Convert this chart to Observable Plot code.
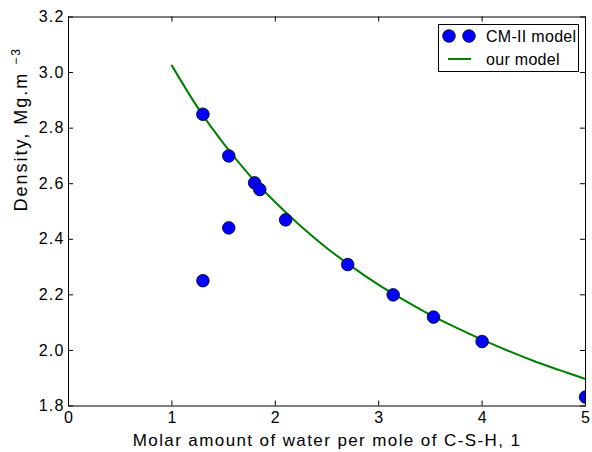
<!DOCTYPE html>
<html><head><meta charset="utf-8">
<script src="https://cdn.jsdelivr.net/npm/d3@7"></script>
<script src="https://cdn.jsdelivr.net/npm/@observablehq/plot@0.6"></script>
<style>body{margin:0;background:#fff}</style>
</head><body><div id="chart"></div>
<script>
// CM-II model points
const cmX = [1.3, 1.55, 1.8, 1.85, 2.1, 1.55, 1.3, 2.7, 3.14, 3.53, 4.0, 5.0];
const cmY = [2.85, 2.70, 2.603, 2.579, 2.47, 2.441, 2.251, 2.309, 2.20, 2.12, 2.032, 1.832];
// our model curve
const modelX = [1.0, 1.25, 1.5, 1.75, 2.0, 2.25, 2.5, 2.75, 3.0, 3.25, 3.5, 3.75, 4.0, 4.25, 4.5, 4.75, 5.0];
const modelY = [3.025, 2.874, 2.744, 2.631, 2.533, 2.446, 2.368, 2.299, 2.236, 2.180, 2.128, 2.082, 2.039, 1.999, 1.962, 1.929, 1.897];
const xTicks = [0, 1, 2, 3, 4, 5];
const yTicks = [1.8, 2.0, 2.2, 2.4, 2.6, 2.8, 3.0, 3.2];
const seriesNames = ["CM-II model", "our model"];
const xLabel = "Molar amount of water per mole of C-S-H, 1";

const W = 592, H = 452, mL = 68, mR = 7, mT = 16.5, mB = 46.5;
const pw = W - mL - mR, ph = H - mT - mB;
const font = "'Liberation Sans', Arial, Helvetica, sans-serif";

const pts = cmX.map((x, i) => ({x, y: cmY[i]}));
const curve = modelX.map((x, i) => ({x, y: modelY[i]}));

const plot = Plot.plot({
  width: W, height: H,
  marginLeft: mL, marginRight: mR, marginTop: mT, marginBottom: mB,
  style: {fontFamily: font, fontSize: "16px", color: "#000", background: "#fff"},
  x: {domain: [0, 5]},
  y: {domain: [1.8, 3.2]},
  marks: [
    Plot.axisX(xTicks, {tickSize: 0, tickPadding: 6, fontSize: 16, letterSpacing: 1.2, label: null}),
    Plot.axisY(yTicks, {tickSize: 0, tickPadding: 4, fontSize: 16, tickFormat: d => d.toFixed(1), label: null}),
    Plot.text([xLabel], {frameAnchor: "bottom", dy: 40, lineAnchor: "bottom", fontSize: 17, text: d => d}),
    Plot.text(["Density, Mg.m-3"], {frameAnchor: "left", dx: -47, rotate: -90, lineAnchor: "middle", fontSize: 18, text: d => d}),
    Plot.tickX(xTicks, {x: d => d, insetTop: ph - 5, stroke: "#000"}),
    Plot.tickX(xTicks, {x: d => d, insetBottom: ph - 5, stroke: "#000"}),
    Plot.tickY(yTicks, {y: d => d, insetRight: pw - 5, stroke: "#000"}),
    Plot.tickY(yTicks, {y: d => d, insetLeft: pw - 5, stroke: "#000"}),
    Plot.line(curve, {x: "x", y: "y", stroke: "#008000", strokeWidth: 2, curve: "catmull-rom"}),
    Plot.dot(pts, {x: "x", y: "y", r: 6.3, fill: "#0000ff", stroke: "#000", strokeWidth: 0.8, clip: true}),
    Plot.frame({stroke: "#000", strokeWidth: 1})
  ]
});
document.getElementById("chart").appendChild(plot);

const svg = d3.select(plot);
// letter spacing for axis labels, tick labels; superscript on y label
svg.selectAll("text").each(function() {
  const t = d3.select(this);
  const s = t.text();
  if (s === xLabel) t.attr("letter-spacing", "1.4px");
  else if (s === "Density, Mg.m-3") {
    t.attr("letter-spacing", "2px");
    t.text(null);
    t.append("tspan").text("Density, Mg.m ");
    t.append("tspan").attr("baseline-shift", "super").attr("font-size", 12).text("−3");
  } else if (/^\d\.\d$/.test(s)) t.attr("letter-spacing", "1.2px");
});

// legend
const lg = svg.append("g").attr("font-family", font).attr("font-size", 16).attr("text-anchor", "start");
lg.append("rect").attr("x", 438.5).attr("y", 24.5).attr("width", 140).attr("height", 47)
  .attr("fill", "#fff").attr("stroke", "#000");
[449, 469].forEach(cx => lg.append("circle").attr("cx", cx).attr("cy", 36).attr("r", 6.3)
  .attr("fill", "#0000ff").attr("stroke", "#000").attr("stroke-width", 0.8));
lg.append("line").attr("x1", 448).attr("x2", 471).attr("y1", 59).attr("y2", 59)
  .attr("stroke", "#008000").attr("stroke-width", 2);
lg.append("text").attr("x", 486).attr("y", 42).attr("letter-spacing", "0.3px").text(seriesNames[0]);
lg.append("text").attr("x", 486).attr("y", 65).attr("letter-spacing", "0.3px").text(seriesNames[1]);
</script>
</body></html>
